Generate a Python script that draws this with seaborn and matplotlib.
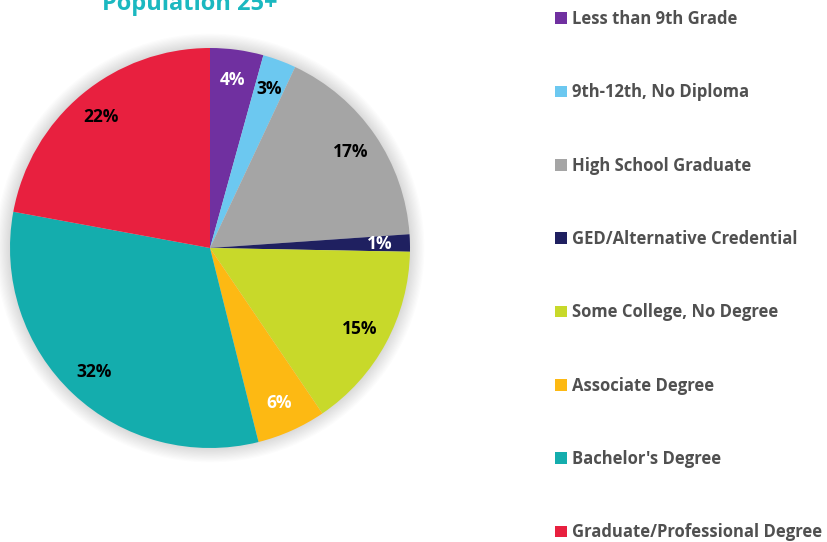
import matplotlib
matplotlib.use("Agg")
import matplotlib.pyplot as plt
import seaborn as sns
from matplotlib.patches import Circle, Patch

sns.set_theme(style="white")
plt.rcParams['font.family'] = ['Open Sans', 'DejaVu Sans']

# educational attainment, population 25+ (percent)
categories = ["Less than 9th Grade", "9th-12th, No Diploma", "High School Graduate",
              "GED/Alternative Credential", "Some College, No Degree", "Associate Degree",
              "Bachelor's Degree", "Graduate/Professional Degree"]
shares = [4.3, 2.7, 16.9, 1.4, 15.2, 5.6, 31.8, 22.1]
colors = ["#7030A0", "#6CC8F0", "#A5A5A5", "#1F2060",
          "#C8D92A", "#FDB913", "#14ADAD", "#E8203F"]
label_colors = ["white", "black", "black", "white", "black", "white", "black", "black"]

palette = sns.color_palette(colors)

fig = plt.figure(figsize=(8.28, 5.42), dpi=100)
ax = fig.add_axes([10 / 828, 94 / 542, 400 / 828, 400 / 542])

# soft shadow behind the pie
for i in range(12):
    ax.add_patch(Circle((0.0, 0.0), 1.0 + 0.006 * (12 - i), color="black",
                        alpha=0.012, zorder=0, lw=0, clip_on=False))

wedges, texts, autotexts = ax.pie(
    shares, colors=palette, startangle=90, counterclock=False,
    autopct=lambda p: "%.0f%%" % p, pctdistance=0.85,
    wedgeprops=dict(linewidth=0), textprops=dict(fontsize=12.5, fontweight="bold"))
for t, c in zip(autotexts, label_colors):
    t.set_color(c)
ax.set_xlim(-1, 1)
ax.set_ylim(-1, 1)
ax.set_aspect("equal")
ax.axis("off")

fig.text(190 / 828, 1 - 10 / 542, "Population 25+", color="#1BB8C0", fontsize=17,
         fontweight="bold", ha="center", va="baseline")

handles = [Patch(facecolor=c, edgecolor="none") for c in colors]
leg = fig.legend(handles, categories, loc="upper left", bbox_to_anchor=(540 / 828, 1 + 5 / 542),
                 frameon=False, handlelength=0.7, handleheight=0.7, handletextpad=0.35,
                 labelspacing=3.32, prop=dict(size=12.0, weight="bold"))
for t in leg.get_texts():
    t.set_color("#505050")

fig.savefig("out.png", dpi=100)
